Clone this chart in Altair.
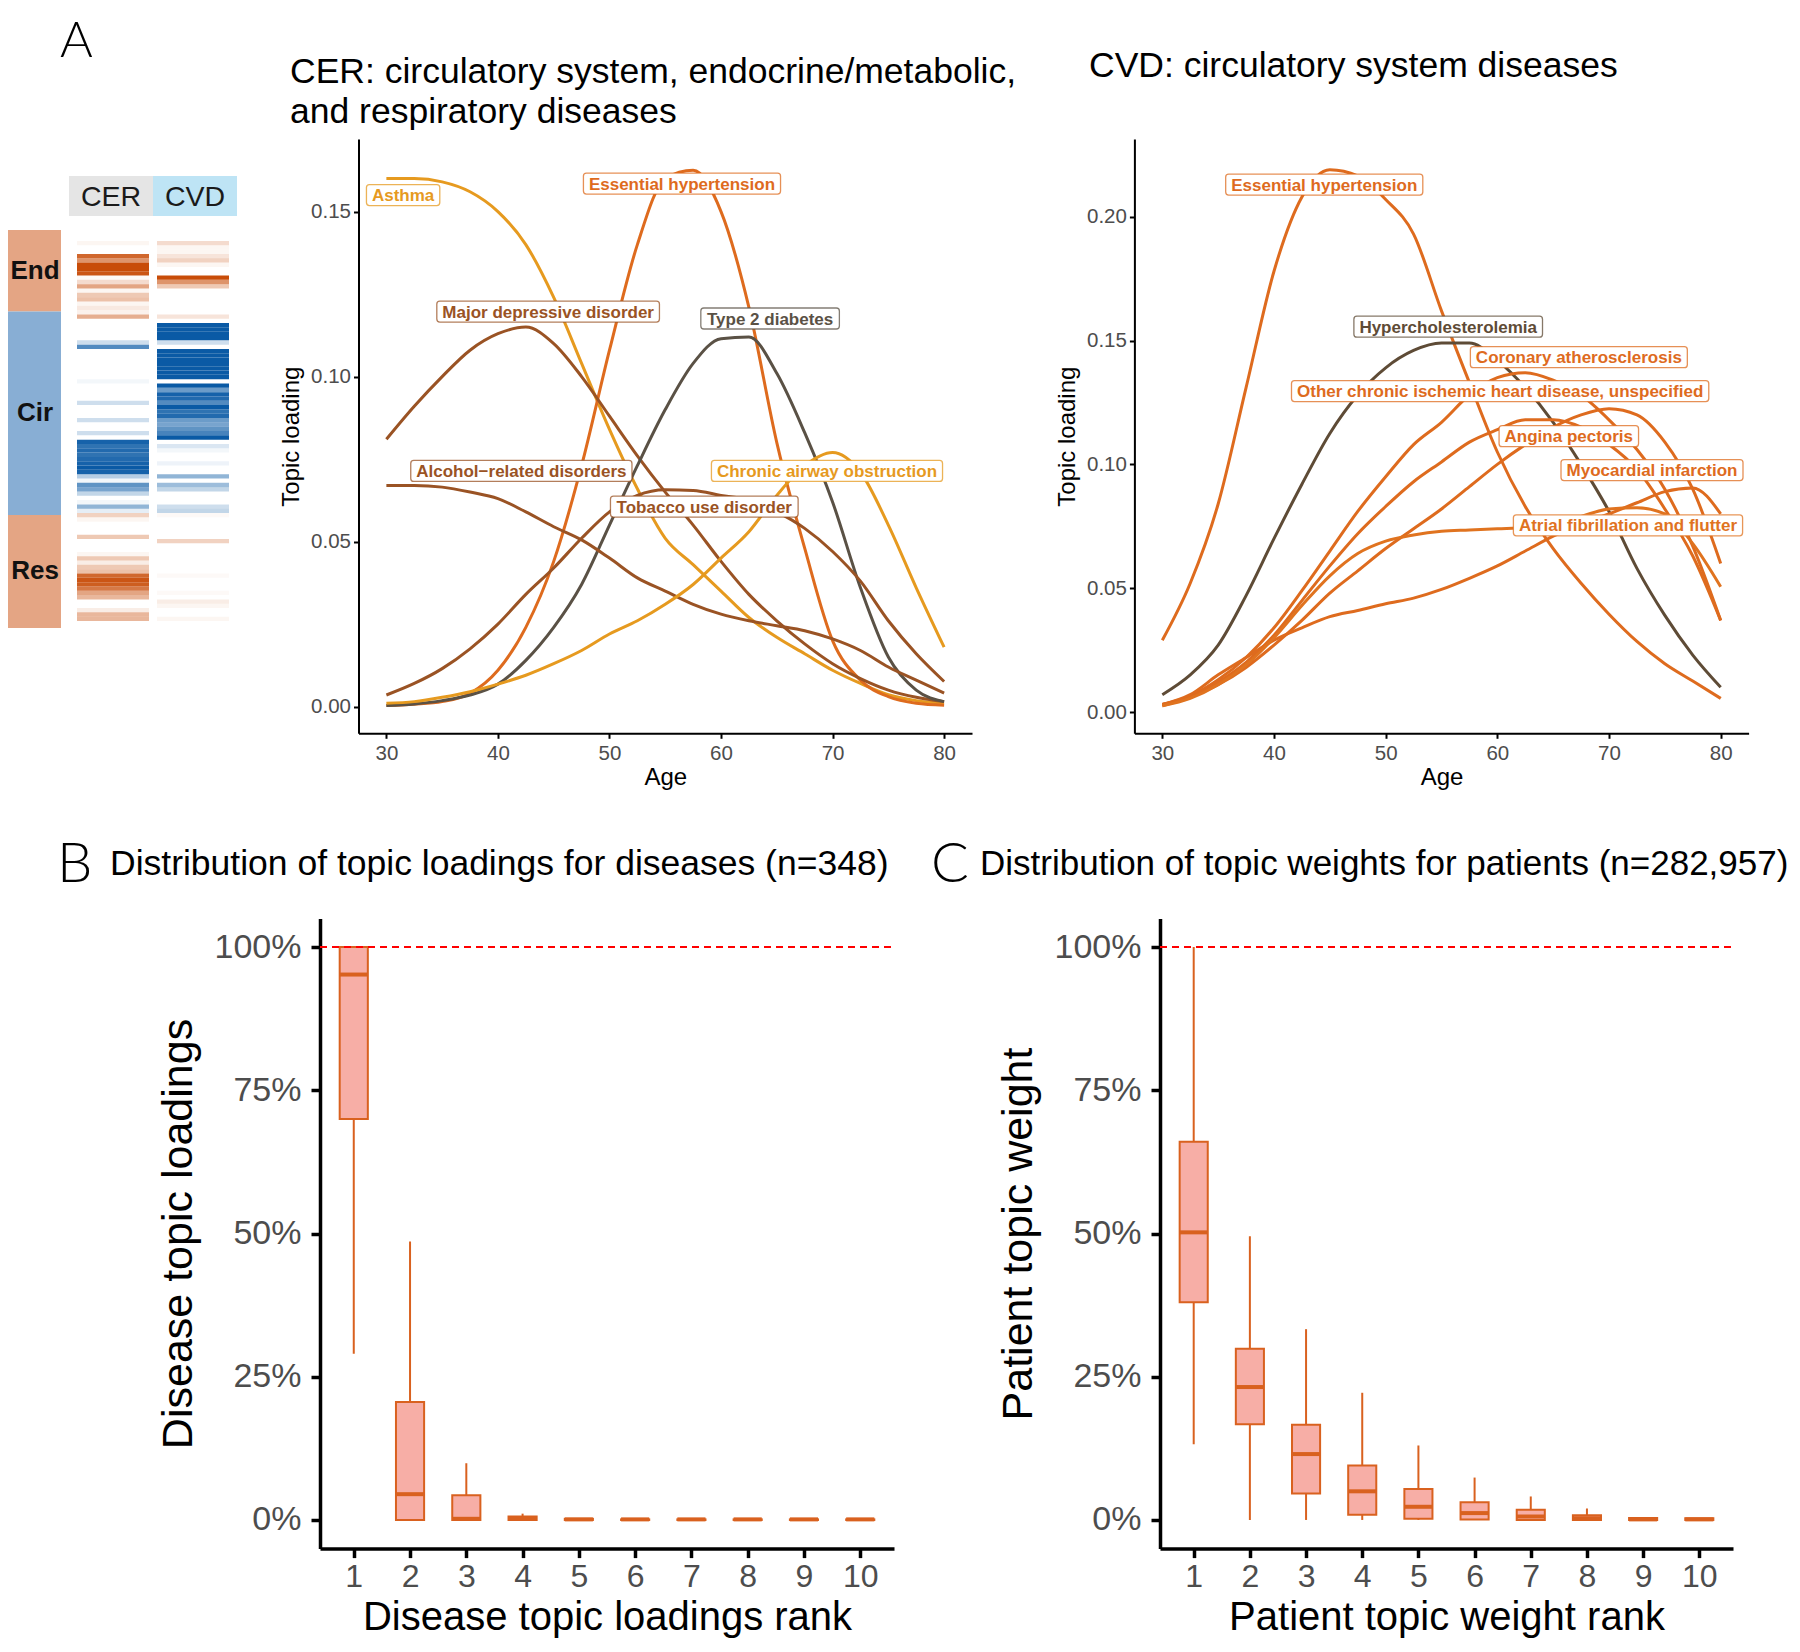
import altair as alt
import pandas as pd

# ---------------------------------------------------------------- data
AGES = [30, 32.5, 35, 37.5, 40, 42.5, 45, 47.5, 50, 52.5, 55, 57.5, 60, 62.5, 65, 67.5, 70, 72.5, 75, 77.5, 80]

CER_DISEASES = ["Asthma", "Essential hypertension", "Major depressive disorder", "Type 2 diabetes",
                "Alcohol\u2212related disorders", "Chronic airway obstruction", "Tobacco use disorder"]
CER_COLORS = ["#E69A1F", "#DE6B1E", "#9A5324", "#5A5145", "#9A5324", "#E69A1F", "#9A5324"]
CER_ASTHMA = [0.160, 0.160, 0.159, 0.156, 0.150, 0.140, 0.124, 0.104, 0.084, 0.066, 0.051, 0.043, 0.035, 0.027, 0.021, 0.016, 0.011, 0.007, 0.0036, 0.0018, 0.001]
CER_ESSENTIAL = [0.0003, 0.0007, 0.0015, 0.004, 0.011, 0.024, 0.044, 0.073, 0.108, 0.140, 0.160, 0.1625, 0.150, 0.121, 0.080, 0.048, 0.020, 0.008, 0.003, 0.001, 0.0004]
CER_MDD = [0.081, 0.091, 0.100, 0.108, 0.113, 0.115, 0.110, 0.100, 0.088, 0.076, 0.065, 0.055, 0.044, 0.034, 0.026, 0.019, 0.013, 0.0085, 0.005, 0.0028, 0.0015]
CER_T2D = [0.0003, 0.0008, 0.0018, 0.0035, 0.0068, 0.014, 0.024, 0.037, 0.055, 0.073, 0.090, 0.104, 0.1115, 0.112, 0.101, 0.083, 0.062, 0.036, 0.015, 0.005, 0.0015]
CER_ALCOHOL = [0.067, 0.067, 0.0665, 0.065, 0.063, 0.059, 0.0545, 0.0505, 0.045, 0.039, 0.035, 0.031, 0.028, 0.026, 0.0245, 0.023, 0.0205, 0.017, 0.012, 0.008, 0.0041]
CER_COPD = [0.001, 0.0015, 0.0028, 0.0045, 0.0068, 0.0095, 0.013, 0.017, 0.022, 0.026, 0.031, 0.037, 0.045, 0.053, 0.064, 0.073, 0.077, 0.071, 0.055, 0.036, 0.018]
CER_TOBACCO = [0.0035, 0.007, 0.0115, 0.0175, 0.025, 0.034, 0.042, 0.051, 0.059, 0.064, 0.0657, 0.0655, 0.064, 0.0625, 0.059, 0.054, 0.047, 0.038, 0.026, 0.016, 0.0076]
CER_LABEL_AGE = [31.5, 56.5, 44.5, 64.4, 42.1, 69.5, 58.5]
CER_LABEL_VALUE = [0.155, 0.1585, 0.1197, 0.1176, 0.0714, 0.0714, 0.0606]

CVD_DISEASES = ["Essential hypertension", "Hypercholesterolemia", "Coronary atherosclerosis",
                "Other chronic ischemic heart disease, unspecified", "Angina pectoris",
                "Myocardial infarction", "Atrial fibrillation and flutter"]
CVD_COLORS = ["#DE6B1E", "#5E4B36", "#DE6B1E", "#DE6B1E", "#DE6B1E", "#DE6B1E", "#E0731F"]
CVD_ESSENTIAL = [0.029, 0.052, 0.084, 0.131, 0.178, 0.208, 0.219, 0.2165, 0.207, 0.193, 0.162, 0.133, 0.105, 0.083, 0.066, 0.052, 0.0395, 0.0285, 0.0195, 0.0125, 0.0055]
CVD_HYPERCHOL = [0.007, 0.015, 0.027, 0.047, 0.070, 0.092, 0.1125, 0.128, 0.139, 0.146, 0.149, 0.149, 0.142, 0.131, 0.117, 0.100, 0.081, 0.058, 0.039, 0.023, 0.010]
CVD_CORONARY = [0.003, 0.0065, 0.013, 0.022, 0.034, 0.049, 0.065, 0.081, 0.095, 0.108, 0.117, 0.128, 0.135, 0.137, 0.134, 0.128, 0.118, 0.106, 0.090, 0.067, 0.037]
CVD_OTHER_IHD = [0.0025, 0.006, 0.011, 0.018, 0.027, 0.037, 0.048, 0.057, 0.066, 0.074, 0.082, 0.091, 0.100, 0.108, 0.115, 0.120, 0.1225, 0.120, 0.109, 0.090, 0.060]
CVD_ANGINA = [0.003, 0.006, 0.012, 0.020, 0.031, 0.045, 0.059, 0.072, 0.083, 0.093, 0.101, 0.109, 0.114, 0.118, 0.118, 0.115, 0.108, 0.098, 0.082, 0.063, 0.037]
CVD_MI = [0.003, 0.007, 0.015, 0.022, 0.029, 0.034, 0.0385, 0.041, 0.0437, 0.046, 0.0495, 0.054, 0.059, 0.065, 0.071, 0.076, 0.080, 0.0845, 0.089, 0.0905, 0.080]
CVD_AFIB = [0.0025, 0.0055, 0.011, 0.019, 0.030, 0.043, 0.055, 0.064, 0.069, 0.0715, 0.073, 0.0735, 0.074, 0.0745, 0.076, 0.079, 0.082, 0.0825, 0.080, 0.068, 0.0506]
CVD_LABEL_AGE = [44.5, 55.6, 67.3, 60.25, 66.4, 73.85, 71.7]
CVD_LABEL_VALUE = [0.213, 0.1556, 0.1433, 0.1296, 0.1114, 0.0977, 0.0754]

# heat map of disease loadings (rows top to bottom)
HEAT_GROUPS = ["End", "Cir", "Res"]
HEAT_GROUP_ROWS = [18, 45, 25]
HEAT_COLUMNS = ["CER", "CVD"]
CER_HEAT = [0.05, 0, 0, 0.85, 0.6, 1.0, 1.0, 0.95, 0.03, 0.2, 0.5, 0.05, 0.3, 0.35, 0.05, 0.12, 0.08, 0.45,
            0, 0, 0, 0, 0, 0.2, 0.7, 0, 0, 0, 0, 0, 0, 0, 0.05, 0, 0, 0, 0, 0.2, 0, 0, 0, 0.2, 0, 0, 0.2, 0,
            0.95, 0.85, 0.9, 0.85, 0.9, 0.95, 1.0, 0.95, 0.3, 0.05, 0.65, 0.55, 0.25, 0, 0.05, 0.45, 0.1,
            0.25, 0.05, 0, 0, 0, 0.3, 0, 0, 0, 0.05, 0.3, 0.1, 0.3, 0.35, 0.85, 0.95, 0.9, 0.75, 0.5, 0.4,
            0, 0, 0.1, 0.4, 0.4]
CVD_HEAT = [0.2, 0.05, 0.05, 0.15, 0.25, 0.05, 0, 0, 1.0, 0.6, 0.3, 0, 0, 0, 0, 0, 0, 0.15,
            0, 1, 1, 1, 1, 0.2, 0, 1, 1, 1, 1, 1, 1, 1, 0,
            1.0, 0.6, 0.95, 0.9, 0.7, 1.0, 0.85, 0.9, 0.6, 0.55, 0.65, 0.75, 1.0,
            0, 0.15, 0.05, 0, 0, 0.07, 0, 0, 0.45, 0, 0.4, 0.25, 0, 0, 0, 0.2, 0.25,
            0.03, 0, 0, 0, 0, 0, 0.25, 0, 0, 0, 0, 0, 0, 0, 0.03, 0, 0, 0, 0.03, 0, 0.1, 0.05, 0, 0, 0.05]

# box plots (fractions)
RANKS = [1, 2, 3, 4, 5, 6, 7, 8, 9, 10]
B_LOWER = [0.29, 0, 0, 0, 0, 0, 0, 0, 0, 0]
B_Q1 = [0.70, 0, 0, 0, 0, 0, 0, 0, 0, 0]
B_MEDIAN = [0.952, 0.045, 0.002, 0.002, 0.001, 0.001, 0.001, 0.001, 0.001, 0.001]
B_Q3 = [1.0, 0.206, 0.043, 0.006, 0.002, 0.001, 0.001, 0.001, 0.001, 0.001]
B_UPPER = [1.0, 0.486, 0.099, 0.011, 0.002, 0.001, 0.001, 0.001, 0.001, 0.001]
C_LOWER = [0.132, 0, 0, 0, 0, 0, 0, 0, 0, 0]
C_Q1 = [0.38, 0.167, 0.046, 0.009, 0.002, 0.001, 0, 0, 0, 0]
C_MEDIAN = [0.502, 0.232, 0.115, 0.050, 0.023, 0.012, 0.006, 0.003, 0.001, 0.001]
C_Q3 = [0.66, 0.299, 0.166, 0.095, 0.054, 0.031, 0.018, 0.008, 0.0035, 0.003]
C_UPPER = [1.0, 0.495, 0.333, 0.222, 0.13, 0.074, 0.041, 0.02, 0.005, 0.003]

# ---------------------------------------------------------------- style / layout
FONT = "Liberation Sans"
LETTER_FONT = "Lato"
W, H = 1784, 1636
MARGIN = 8


def P(v):
    """page pixel -> chart pixel"""
    return v - MARGIN


LABEL_SIZE = 17
LABEL_PAD = 5.5
LABEL_H = 21
BOX_HALF = 0.25
BOX_FILL = "#F7AEA6"
BOX_STROKE = "#D9611F"

BOLD_W = {" ": .278, ",": .278, "-": .333, "\u2212": .584, "2": .556,
          "A": .722, "C": .722, "E": .667, "H": .722, "M": .833, "O": .778, "T": .611,
          "a": .556, "b": .611, "c": .556, "d": .611, "e": .556, "f": .333, "g": .611, "h": .611,
          "i": .278, "j": .278, "k": .556, "l": .278, "m": .889, "n": .611, "o": .611, "p": .611,
          "q": .611, "r": .389, "s": .556, "t": .333, "u": .611, "v": .556, "w": .778, "x": .556,
          "y": .556, "z": .5}


def text_width(s, size):
    return sum(BOLD_W.get(c, 0.556) for c in s) * size


CER_X = dict(domain=[27.5, 82.5], range=[P(358.5), P(972)])
CER_Y = dict(domain=[-0.0081, 0.172], range=[P(733.3), P(139)])
CVD_X = dict(domain=[27.5, 82.5], range=[P(1134.4), P(1748.6)])
CVD_Y = dict(domain=[-0.0086, 0.2314], range=[P(733.3), P(139)])
B_X = dict(domain=[0.4, 10.6], range=[P(320), P(894)])
C_X = dict(domain=[0.4, 10.6], range=[P(1160), P(1733)])
BC_Y = dict(domain=[-0.05, 1.05], range=[P(1548.6), P(918.4)])


def sc(d):
    return alt.Scale(domain=d["domain"], range=d["range"], nice=False, zero=False)


def axis(**kw):
    base = dict(grid=False, domainColor="black", tickColor="black", labelColor="#4D4D4D",
                titleColor="black", labelFont=FONT, titleFont=FONT, titleFontWeight="normal",
                labelFlush=False, labelOverlap=False)
    base.update(kw)
    return alt.Axis(**base)


# ---------------------------------------------------------------- heat map panel
heat_rows = []
groups = [g for g, n in zip(HEAT_GROUPS, HEAT_GROUP_ROWS) for _ in range(n)]
N_ROWS = len(groups)
for i, g in enumerate(groups):
    heat_rows.append(dict(row=i, col="CER", group=g, value=CER_HEAT[i]))
    heat_rows.append(dict(row=i, col="CVD", group=g, value=CVD_HEAT[i]))
heat_df = pd.DataFrame(heat_rows)

cat_rows = []
start = 0
for g, n in zip(HEAT_GROUPS, HEAT_GROUP_ROWS):
    cat_rows.append(dict(group=g, start=start, end=start + n, mid=start + n / 2))
    start += n
cat_df = pd.DataFrame(cat_rows)
hdr_df = pd.DataFrame({"col": HEAT_COLUMNS})

heat_cells = alt.Chart(heat_df).mark_rect().encode(
    x=alt.X("col:N", scale=alt.Scale(domain=HEAT_COLUMNS, range=[P(73), P(233)], paddingInner=0.1, paddingOuter=0.05), axis=None),
    y=alt.Y("row:O", scale=alt.Scale(domain=list(range(N_ROWS)), range=[P(241), P(621)], paddingInner=0, paddingOuter=0), axis=None),
    color=alt.Color("group:N", scale=alt.Scale(domain=HEAT_GROUPS, range=["#C84C08", "#0A5AA5", "#C84C08"]), legend=None),
    opacity=alt.Opacity("value:Q", scale=alt.Scale(domain=[0, 1], range=[0, 1]), legend=None),
)
cat_y = alt.Scale(domain=[0, N_ROWS], range=[P(230), P(628)], nice=False, zero=False)
cat_blocks = alt.Chart(cat_df).mark_rect().encode(
    x=alt.value(P(0)), x2=alt.value(P(61)),
    y=alt.Y("start:Q", scale=cat_y, axis=None), y2="end:Q",
    color=alt.Color("group:N", scale=alt.Scale(domain=HEAT_GROUPS, range=["#E4A584", "#88AED4", "#E4A584"]), legend=None),
)
cat_text = alt.Chart(cat_df).mark_text(font=FONT, fontWeight="bold", fontSize=26, color="#111111",
                                       align="center", baseline="middle").encode(
    x=alt.value(P(35)), y=alt.Y("mid:Q", scale=cat_y, axis=None), text="group:N")
hdr_x = alt.Scale(domain=HEAT_COLUMNS, range=[P(69), P(237)], paddingInner=0, paddingOuter=0)
hdr_rect = alt.Chart(hdr_df).mark_rect().encode(
    x=alt.X("col:N", scale=hdr_x, axis=None), y=alt.value(P(176)), y2=alt.value(P(216)),
    color=alt.Color("col:N", scale=alt.Scale(domain=HEAT_COLUMNS, range=["#E5E5E5", "#BEE4F5"]), legend=None))
hdr_text = alt.Chart(hdr_df).mark_text(font=FONT, fontSize=28.5, color="#1A1A1A", baseline="middle").encode(
    x=alt.X("col:N", scale=hdr_x, axis=None), y=alt.value(P(197)), text="col:N")


# ---------------------------------------------------------------- curve panels
def curve_layers(names, colors, series, lab_age, lab_val, xs, ys, yvals):
    df = pd.DataFrame([dict(disease=n, age=a, value=v)
                       for n, s in zip(names, series) for a, v in zip(AGES, s)])
    ppx = (xs["range"][1] - xs["range"][0]) / (xs["domain"][1] - xs["domain"][0])
    ppy = (ys["range"][0] - ys["range"][1]) / (ys["domain"][1] - ys["domain"][0])
    lab = []
    for n, a, v in zip(names, lab_age, lab_val):
        w = text_width(n, LABEL_SIZE) + 2 * LABEL_PAD
        lab.append(dict(disease=n, age=a, value=v, x0=a - w / 2 / ppx, x1=a + w / 2 / ppx,
                        y0=v - LABEL_H / 2 / ppy, y1=v + LABEL_H / 2 / ppy))
    lab = pd.DataFrame(lab)
    cscale = alt.Scale(domain=names, range=colors)
    lines = alt.Chart(df).mark_line(interpolate="monotone", strokeWidth=3).encode(
        x=alt.X("age:Q", scale=sc(xs), axis=axis(orient="bottom", offset=ys["range"][0] - H,
                                                 values=[30, 40, 50, 60, 70, 80], format="d", title="Age",
                                                 titleFontSize=24, labelFontSize=20.5, tickSize=5, tickWidth=2,
                                                 domainWidth=2, labelPadding=5, titlePadding=2)),
        y=alt.Y("value:Q", scale=sc(ys), axis=axis(orient="left", offset=-xs["range"][0], values=yvals,
                                                   format=".2f", title="Topic loading", titleFontSize=24,
                                                   labelFontSize=20.5, tickSize=5, tickWidth=2, domainWidth=2,
                                                   labelPadding=3, titlePadding=7)),
        color=alt.Color("disease:N", scale=cscale, legend=None),
    )
    boxes = alt.Chart(lab).mark_rect(fill="white", strokeWidth=1.3, cornerRadius=3, strokeOpacity=0.75).encode(
        x=alt.X("x0:Q", scale=sc(xs), axis=None), x2="x1:Q",
        y=alt.Y("y0:Q", scale=sc(ys), axis=None), y2="y1:Q",
        stroke=alt.Stroke("disease:N", scale=cscale, legend=None),
    )
    texts = alt.Chart(lab).mark_text(font=FONT, fontWeight="bold", fontSize=LABEL_SIZE, align="center",
                                     baseline="middle", dy=1).encode(
        x=alt.X("age:Q", scale=sc(xs), axis=None), y=alt.Y("value:Q", scale=sc(ys), axis=None),
        color=alt.Color("disease:N", scale=cscale, legend=None), text="disease:N",
    )
    return [lines, boxes, texts]


cer_layers = curve_layers(CER_DISEASES, CER_COLORS,
                          [CER_ASTHMA, CER_ESSENTIAL, CER_MDD, CER_T2D, CER_ALCOHOL, CER_COPD, CER_TOBACCO],
                          CER_LABEL_AGE, CER_LABEL_VALUE, CER_X, CER_Y, [0, 0.05, 0.10, 0.15])
cvd_layers = curve_layers(CVD_DISEASES, CVD_COLORS,
                          [CVD_ESSENTIAL, CVD_HYPERCHOL, CVD_CORONARY, CVD_OTHER_IHD, CVD_ANGINA, CVD_MI, CVD_AFIB],
                          CVD_LABEL_AGE, CVD_LABEL_VALUE, CVD_X, CVD_Y, [0, 0.05, 0.10, 0.15, 0.20])


# ---------------------------------------------------------------- box panels
def box_layers(lower, q1, med, q3, upper, xs, xtitle, ytitle):
    df = pd.DataFrame(dict(rank=RANKS, lower=lower, q1=q1, median=med, q3=q3, upper=upper))
    df["lo"] = df["rank"] - BOX_HALF
    df["hi"] = df["rank"] + BOX_HALF
    ref = pd.DataFrame(dict(y=[1.0], x0=[xs["domain"][0]], x1=[xs["domain"][1]]))
    whisk = alt.Chart(df).mark_rule(color=BOX_STROKE, strokeWidth=2).encode(
        x=alt.X("rank:Q", scale=sc(xs), axis=axis(orient="bottom", offset=BC_Y["range"][0] - H, values=RANKS,
                                                  format="d", title=xtitle, titleFontSize=40, labelFontSize=32,
                                                  tickSize=9, tickWidth=3.5, domainWidth=3.5, labelPadding=4,
                                                  titlePadding=5)),
        y=alt.Y("lower:Q", scale=sc(BC_Y), axis=axis(orient="left", offset=-xs["range"][0],
                                                     values=[0, 0.25, 0.5, 0.75, 1.0], format=".0%",
                                                     title=ytitle, titleFontSize=43, labelFontSize=34,
                                                     tickSize=9, tickWidth=3.5, domainWidth=3.5,
                                                     labelPadding=10, titlePadding=14)),
        y2="upper:Q",
    )
    box = alt.Chart(df).mark_rect(fill=BOX_FILL, stroke=BOX_STROKE, strokeWidth=2).encode(
        x=alt.X("lo:Q", scale=sc(xs), axis=None), x2="hi:Q",
        y=alt.Y("q1:Q", scale=sc(BC_Y), axis=None), y2="q3:Q")
    median = alt.Chart(df).mark_rule(color=BOX_STROKE, strokeWidth=4).encode(
        x=alt.X("lo:Q", scale=sc(xs), axis=None), x2="hi:Q",
        y=alt.Y("median:Q", scale=sc(BC_Y), axis=None))
    dash = alt.Chart(ref).mark_rule(color="#FF0000", strokeWidth=2, strokeDash=[7, 5]).encode(
        x=alt.X("x0:Q", scale=sc(xs), axis=None), x2="x1:Q",
        y=alt.Y("y:Q", scale=sc(BC_Y), axis=None))
    return [whisk, box, median, dash]


b_layers = box_layers(B_LOWER, B_Q1, B_MEDIAN, B_Q3, B_UPPER, B_X,
                      "Disease topic loadings rank", "Disease topic loadings")
c_layers = box_layers(C_LOWER, C_Q1, C_MEDIAN, C_Q3, C_UPPER, C_X,
                      "Patient topic weight rank", "Patient topic weight")


# ---------------------------------------------------------------- titles
def title_text(txt, x, y, size, font=FONT, weight="normal", line_height=None):
    props = dict(text=txt, font=font, fontSize=size, fontWeight=weight, color="black",
                 align="left", baseline="alphabetic")
    if line_height:
        props["lineHeight"] = line_height
    return alt.Chart(alt.Data(values=[{}])).mark_text(**props).encode(x=alt.value(P(x)), y=alt.value(P(y)))


titles = [
    title_text("A", 60, 57, 50, font=LETTER_FONT, weight=300),
    title_text(["CER: circulatory system, endocrine/metabolic,", "and respiratory diseases"], 290, 83, 35.5,
               line_height=40),
    title_text("CVD: circulatory system diseases", 1089, 77, 35.5),
    title_text("B", 57, 882, 56, font=LETTER_FONT, weight=300),
    title_text("Distribution of topic loadings for diseases (n=348)", 110, 875, 35.5),
    title_text("C", 931, 882, 56, font=LETTER_FONT, weight=300),
    title_text("Distribution of topic weights for patients (n=282,957)", 980, 875, 35),
]

all_layers = [cat_blocks, cat_text, hdr_rect, hdr_text, heat_cells] + cer_layers + cvd_layers + b_layers + c_layers + titles

chart = alt.layer(*all_layers).resolve_scale(
    x="independent", y="independent", color="independent", stroke="independent", opacity="independent"
).resolve_axis(x="independent", y="independent").properties(
    width=W, height=H, autosize=alt.AutoSizeParams(type="none"), padding=0, background="white"
).configure_view(strokeWidth=0, stroke="transparent")

chart.save("out.html", embed_options={"renderer": "svg", "actions": False})
